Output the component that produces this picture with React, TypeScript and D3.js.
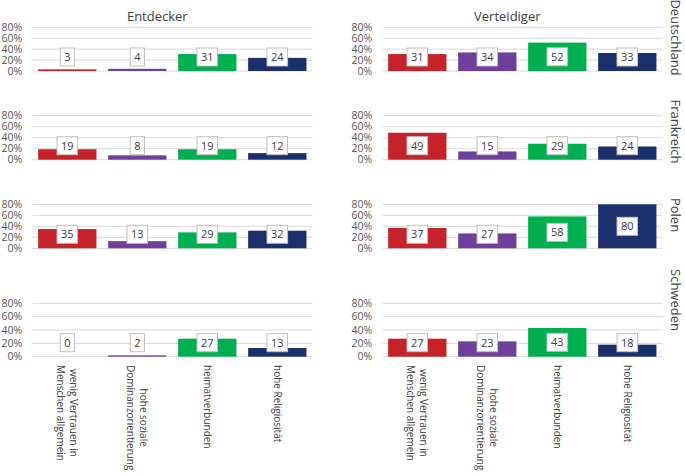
import React from 'react';
import * as d3 from 'd3';

// categories (x axis), groups (panels) and countries (rows)
const categories = ['wenig Vertrauen in Menschen allgemein', 'hohe soziale Dominanzorientierung', 'heimatverbunden', 'hohe Religiosität'];
const categoryLines = [['wenig Vertrauen in', 'Menschen allgemein'], ['hohe soziale', 'Dominanzorientierung'], ['heimatverbunden'], ['hohe Religiosität']];
const groups = ['Entdecker', 'Verteidiger'];
const countries = ['Deutschland', 'Frankreich', 'Polen', 'Schweden'];

// percent values, one row per country
const entdecker = [
	[3, 4, 31, 24],
	[19, 8, 19, 12],
	[35, 13, 29, 32],
	[0, 2, 27, 13],
];
const verteidiger = [
	[31, 34, 52, 33],
	[49, 15, 29, 24],
	[37, 27, 58, 80],
	[27, 23, 43, 18],
];
const yTicks = [0, 20, 40, 60, 80];
const yTickLabels = ['0%', '20%', '40%', '60%', '80%'];

const barColors = ['#c5222a', '#6e409b', '#00b050', '#1b2f6d'];

// layout (pixels)
const W = 685, H = 476;
const panelLeft = [32.3, 382.3];
const panelWidth = 280;
const rowTop = [27.3, 115.7, 204.3, 303.3];
const rowBottom = [71, 159.7, 248.3, 356.7];
const rowLabelY = [37.5, 131.5, 215, 300];
const font = "'Open Sans', sans-serif";

let ctx: CanvasRenderingContext2D | null = null;
function textWidth(s: string, size: number) {
	if (!ctx) ctx = document.createElement('canvas').getContext('2d');
	if (!ctx) return s.length * size * 0.55;
	ctx.font = `${size}px 'Open Sans'`;
	return ctx.measureText(s).width;
}

function bandScale(gi: number) {
	const x0 = panelLeft[gi];
	return d3.scaleBand<string>().domain(categories).range([x0, x0 + panelWidth]).paddingInner(0.167).paddingOuter(0.0835);
}

function Panel({gi, ri}: {gi: number, ri: number}) {
	const values = (gi === 0 ? entdecker : verteidiger)[ri];
	const x0 = panelLeft[gi];
	const x = bandScale(gi);
	const y = d3.scaleLinear().domain([0, 80]).range([rowBottom[ri], rowTop[ri]]);
	const base = y(0);

	return (
		<g>
			{yTicks.map((t, i) => (
				<g key={t}>
					<line x1={x0} x2={x0 + panelWidth} y1={y(t)} y2={y(t)} stroke="#d9d9d9" strokeWidth={1}/>
					<text x={x0 - 10} y={y(t)} dy="0.35em" textAnchor="end" fontSize={10.5} fill="#595959">{yTickLabels[i]}</text>
				</g>
			))}
			{values.map((v, i) => v > 0 && (
				<rect key={i} x={x(categories[i])} y={y(v)} width={x.bandwidth()} height={base - y(v)} fill={barColors[i]}/>
			))}
			{values.map((v, i) => {
				const cx = (x(categories[i]) as number) + x.bandwidth() / 2;
				const cy = Math.min(base - 14, (y(v) + base) / 2);
				const label = String(v);
				const bw = textWidth(label, 11) + 8;
				return (
					<g key={'l' + i}>
						<rect x={cx - bw / 2} y={cy - 9} width={bw} height={18} fill="#fff" stroke="#bfbfbf" strokeWidth={1}/>
						<text x={cx} y={cy} dy="0.35em" textAnchor="middle" fontSize={11} fill="#404040">{label}</text>
					</g>
				);
			})}
		</g>
	);
}

function CategoryLabels({gi}: {gi: number}) {
	const x = bandScale(gi);
	return (
		<g>
			{categories.map((c, i) => {
				const lines = categoryLines[i];
				const cx = (x(c) as number) + x.bandwidth() / 2;
				const longest = Math.max(...lines.map(l => textWidth(l, 10)));
				return (
					<g key={c} transform={`translate(${cx},365) rotate(90)`}>
						{lines.map((l, li) => (
							<text key={li} x={longest / 2} y={(li - (lines.length - 1) / 2) * 13} dy="0.35em"
								textAnchor="middle" fontSize={10} fill="#404040">{l}</text>
						))}
					</g>
				);
			})}
		</g>
	);
}

export default function App() {
	return (
		<svg width={W} height={H} style={{position: 'absolute', left: 0, top: 0, background: '#fff'}} fontFamily={font}>
			<rect width={W} height={H} fill="#fff"/>
			{groups.map((g, gi) => (
				<text key={g} x={panelLeft[gi] + panelWidth / 2 - 15} y={21} textAnchor="middle" fontSize={13} fill="#404040">{g}</text>
			))}
			{countries.map((c, ri) => groups.map((g, gi) => <Panel key={c + g} gi={gi} ri={ri}/>))}
			{groups.map((g, gi) => <CategoryLabels key={g} gi={gi}/>)}
			{countries.map((c, ri) => (
				<text key={c} transform={`translate(671,${rowLabelY[ri]}) rotate(90)`} textAnchor="middle" fontSize={13} fill="#404040">{c}</text>
			))}
		</svg>
	);
}
